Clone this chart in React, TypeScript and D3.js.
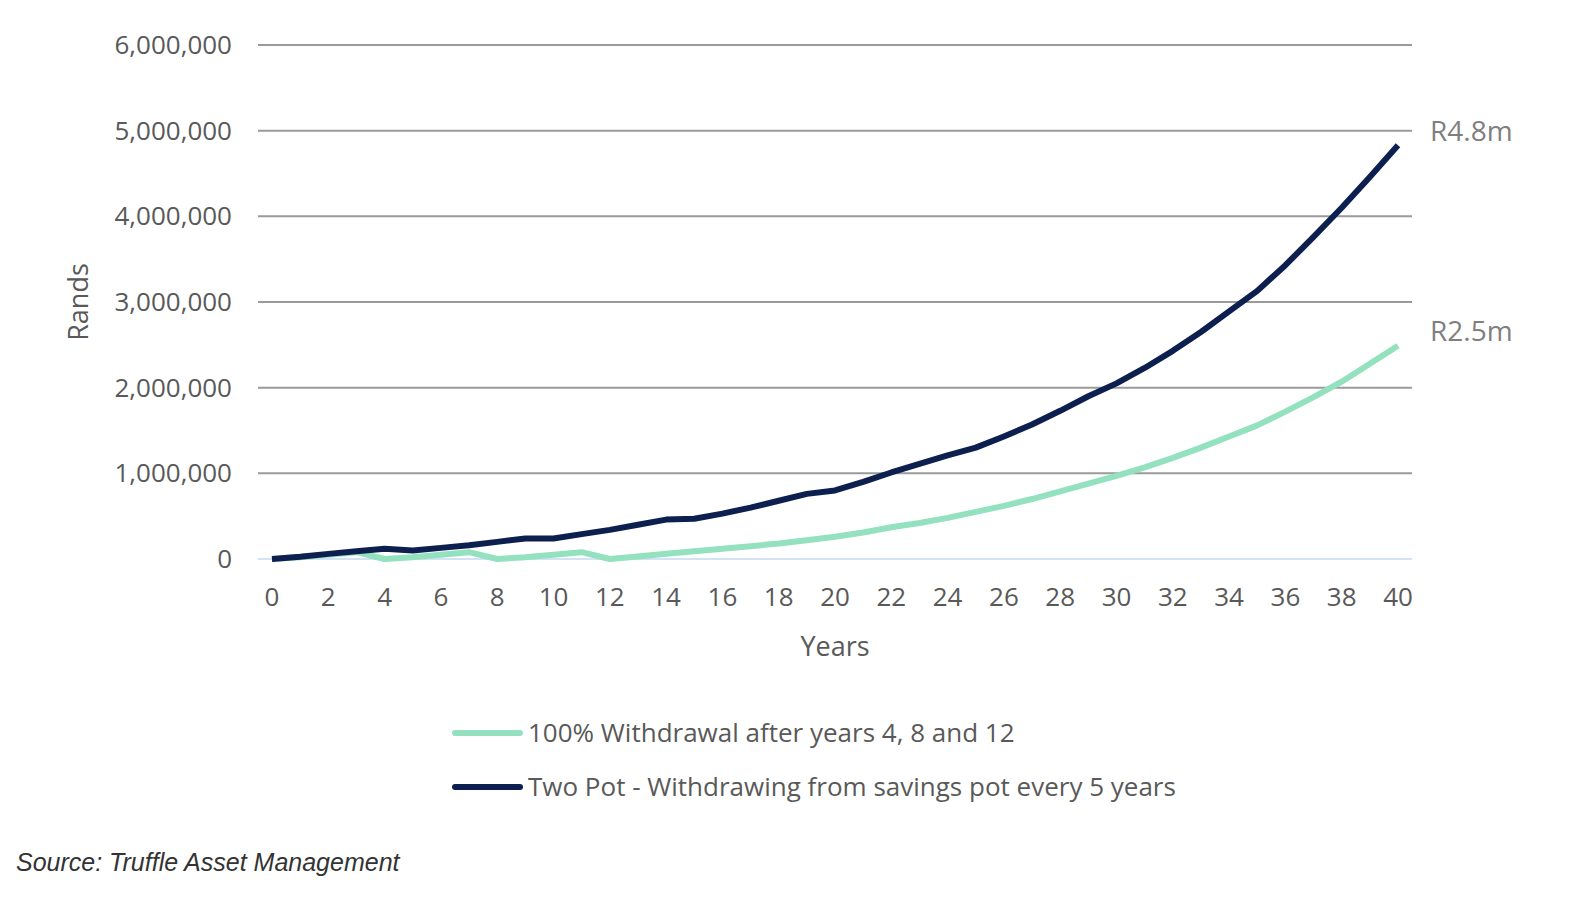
import * as d3 from "d3";

const years = d3.range(0, 41);
const twoPot = [0, 25, 60, 90, 120, 100, 130, 160, 200, 240, 240, 290, 340, 400, 460, 470, 530, 600, 680, 760, 800, 900, 1010, 1110, 1210, 1300, 1430, 1570, 1730, 1900, 2050, 2230, 2430, 2650, 2890, 3130, 3430, 3760, 4100, 4460, 4830].map((v) => v * 1000);
const fullWithdrawal = [0, 20, 50, 80, 0, 20, 50, 80, 0, 20, 50, 80, 0, 30, 60, 90, 120, 150, 180, 220, 260, 310, 370, 420, 480, 550, 620, 700, 790, 880, 970, 1070, 1180, 1300, 1430, 1560, 1720, 1890, 2070, 2280, 2490].map((v) => v * 1000);
const yTicks = [0, 1000000, 2000000, 3000000, 4000000, 5000000, 6000000];
const xTicks = d3.range(0, 41, 2);
const legendLabels = ["100% Withdrawal after years 4, 8 and 12", "Two Pot - Withdrawing from savings pot every 5 years"];

const GREEN = "#93e1bf";
const NAVY = "#0c1f4f";
const FONT = "'Open Sans', sans-serif";

export default function App() {
  const x = d3.scaleLinear().domain([0, 40]).range([272, 1398]);
  const y = d3.scaleLinear().domain([0, 6000000]).range([559, 45]);
  const line = d3.line<number>().x((_, i) => x(years[i])).y((d) => y(d));
  const fmt = d3.format(",");

  return (
    <svg width={1586} height={900} style={{ position: "absolute", left: 0, top: 0, background: "#fff" }} fontFamily={FONT}>
      {yTicks.map((t) => (
        <g key={t}>
          <line x1={258} x2={1412} y1={y(t)} y2={y(t)} stroke={t === 0 ? "#c5d8f0" : "#9a9a9a"} strokeWidth={t === 0 ? 1.5 : 2} />
          <text x={232} y={y(t)} dy="0.35em" textAnchor="end" fontSize={26} fill="#595959">{fmt(t)}</text>
        </g>
      ))}
      {xTicks.map((t) => (
        <text key={t} x={x(t)} y={606} textAnchor="middle" fontSize={26} fill="#595959">{t}</text>
      ))}
      <text x={835} y={656} textAnchor="middle" fontSize={27} fill="#595959">Years</text>
      <text transform="translate(88,302) rotate(-90)" textAnchor="middle" fontSize={27} fill="#595959">Rands</text>
      <path d={line(fullWithdrawal) || ""} fill="none" stroke={GREEN} strokeWidth={6} strokeLinejoin="round" />
      <path d={line(twoPot) || ""} fill="none" stroke={NAVY} strokeWidth={6} strokeLinejoin="round" />
      <text x={1430} y={y(twoPot[40]) - 14} dy="0.35em" fontSize={28} fill="#7f7f7f">R4.8m</text>
      <text x={1430} y={y(fullWithdrawal[40]) - 14} dy="0.35em" fontSize={28} fill="#7f7f7f">R2.5m</text>
      {legendLabels.map((l, i) => (
        <g key={l} transform={`translate(0,${733 + i * 54})`}>
          <line x1={455} x2={520} y1={0} y2={0} stroke={i === 0 ? GREEN : NAVY} strokeWidth={6} strokeLinecap="round" />
          <text x={528} y={0} dy="0.35em" fontSize={26} fill="#595959">{l}</text>
        </g>
      ))}
      <text x={16} y={871} fontSize={25} fontStyle="italic" fill="#333" fontFamily="'Liberation Sans', Arial, sans-serif">Source: Truffle Asset Management</text>
    </svg>
  );
}
